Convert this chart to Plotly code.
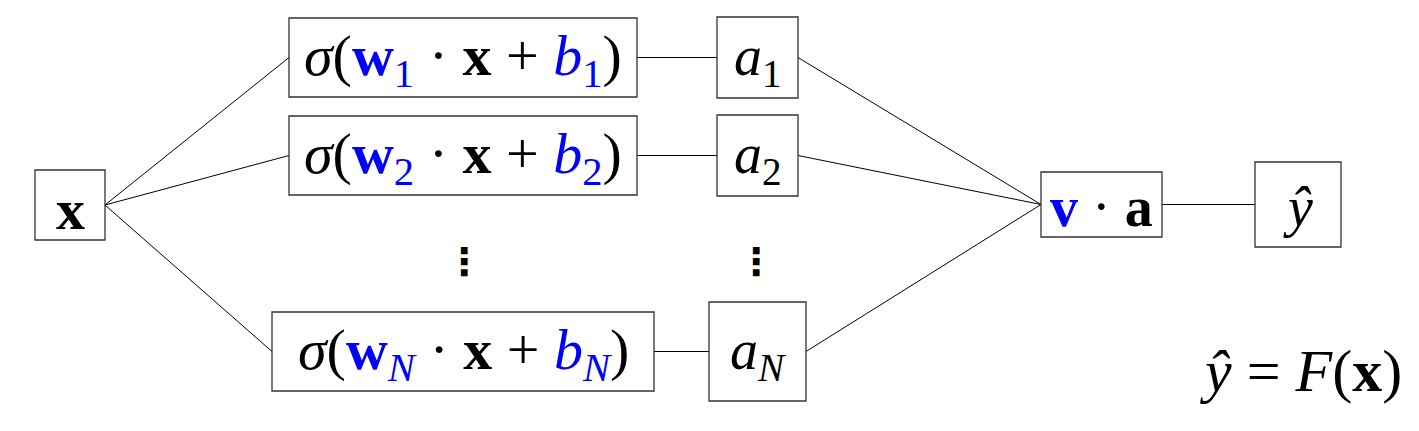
import plotly.graph_objects as go

# ---- diagram content ----
node_ids = ["x", "s1", "s2", "sN", "a1", "a2", "aN", "va", "yh"]
BLUE = "#0000ff"
def blu(s):
    return f"<span style='color:{BLUE}'>{s}</span>"

node_labels = [
    "<b>x</b>",
    "<i>σ</i>(" + blu("<b>w</b><sub>1</sub>") + " · <b>x</b> + " + blu("<i>b</i><sub>1</sub>") + ")",
    "<i>σ</i>(" + blu("<b>w</b><sub>2</sub>") + " · <b>x</b> + " + blu("<i>b</i><sub>2</sub>") + ")",
    "<i>σ</i>(" + blu("<b>w</b><sub><i>N</i></sub>") + " · <b>x</b> + " + blu("<i>b</i><sub><i>N</i></sub>") + ")",
    "<i>a</i><sub>1</sub>",
    "<i>a</i><sub>2</sub>",
    "<i>a</i><sub><i>N</i></sub>",
    blu("<b>v</b>") + " · <b>a</b>",
    "<i>ŷ</i>",
]
edges = [("x", "s1"), ("x", "s2"), ("x", "sN"),
         ("s1", "a1"), ("s2", "a2"), ("sN", "aN"),
         ("a1", "va"), ("a2", "va"), ("aN", "va"),
         ("va", "yh")]
ellipsis_label = "⋮"
formula_label = "<i>ŷ</i> = <i>F</i>(<b>x</b>)"

# ---- layout geometry (pixels) ----
box_x0 = [35, 289, 289, 272, 717, 717, 709, 1041, 1255]
box_x1 = [105, 637, 637, 654, 798, 798, 806, 1162, 1341]
box_y0 = [170, 18, 116, 312, 17, 115, 302, 172, 162]
box_y1 = [240, 97, 195, 391, 98, 196, 401, 237, 247]
label_size = [58, 58, 58, 58, 56, 56, 56, 56, 56]
label_dy = [4, 2, 2, 2, 2, 2, 2, 2, 2]
ellipsis_x = [464, 756]
ellipsis_y = [262, 262]
formula_pos = (1300, 371)

W, H = 1419, 431
FONT = "Liberation Serif"
idx = {n: i for i, n in enumerate(node_ids)}

fig = go.Figure()

# connecting lines
lx, ly = [], []
for a, b in edges:
    i, j = idx[a], idx[b]
    lx += [box_x1[i], box_x0[j], None]
    ly += [(box_y0[i] + box_y1[i]) / 2, (box_y0[j] + box_y1[j]) / 2, None]
fig.add_trace(go.Scatter(x=lx, y=ly, mode="lines",
                         line=dict(color="black", width=1),
                         hoverinfo="skip", showlegend=False))

# boxes
for i in range(len(node_ids)):
    fig.add_shape(type="rect", x0=box_x0[i], x1=box_x1[i], y0=box_y0[i], y1=box_y1[i],
                  line=dict(color="#333333", width=1.3), fillcolor="white", layer="above")

# labels
for i in range(len(node_ids)):
    fig.add_annotation(x=(box_x0[i] + box_x1[i]) / 2, y=(box_y0[i] + box_y1[i]) / 2 + label_dy[i],
                       text=node_labels[i], showarrow=False,
                       font=dict(family=FONT, size=label_size[i], color="black"),
                       xanchor="center", yanchor="middle")

for ex, ey in zip(ellipsis_x, ellipsis_y):
    fig.add_annotation(x=ex, y=ey, text="<b>" + ellipsis_label + "</b>", showarrow=False,
                       font=dict(family="DejaVu Sans", size=38, color="black"),
                       xanchor="center", yanchor="middle")

fig.add_annotation(x=formula_pos[0], y=formula_pos[1], text=formula_label, showarrow=False,
                   font=dict(family=FONT, size=60, color="black"),
                   xanchor="center", yanchor="middle")

fig.update_layout(
    width=W, height=H,
    margin=dict(l=0, r=0, t=0, b=0),
    paper_bgcolor="white", plot_bgcolor="white",
    xaxis=dict(range=[0, W], visible=False, fixedrange=True),
    yaxis=dict(range=[H, 0], visible=False, fixedrange=True),
    showlegend=False,
)

fig.write_html("out.html", config={"displayModeBar": False},
               post_script="document.body.style.margin='0';document.body.style.overflow='hidden';")
